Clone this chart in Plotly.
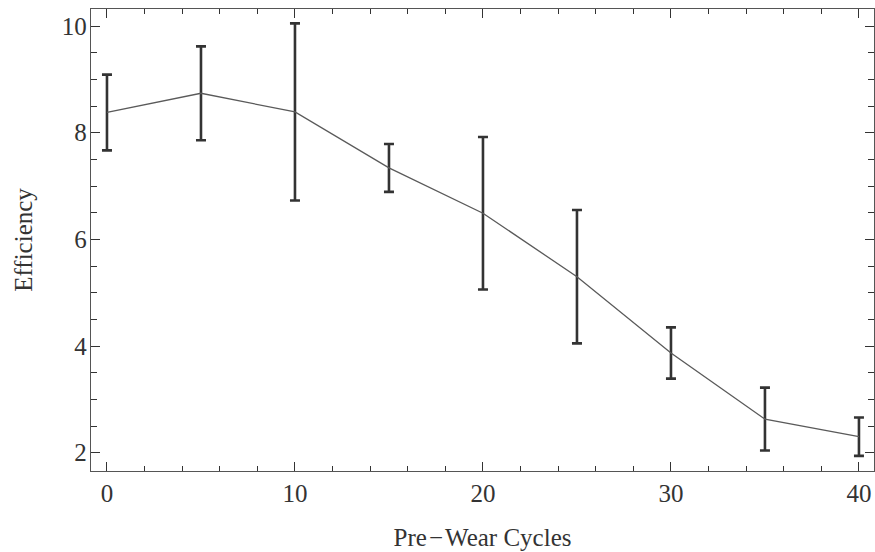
import plotly.graph_objects as go

# Efficiency measured after a number of pre-wear cycles (mean ± error)
cycles = [0, 5, 10, 15, 20, 25, 30, 35, 40]
efficiency = [8.38, 8.74, 8.39, 7.34, 6.49, 5.30, 3.87, 2.63, 2.30]
error = [0.71, 0.88, 1.66, 0.45, 1.43, 1.25, 0.48, 0.59, 0.36]

x_ticks = [0, 10, 20, 30, 40]
y_ticks = [2, 4, 6, 8, 10]

serif = "Liberation Serif, Times New Roman, serif"
frame_col = "#555555"
text_col = "#333333"

fig = go.Figure()
fig.add_trace(go.Scatter(
    x=cycles,
    y=efficiency,
    mode="lines",
    line=dict(color="#5a5a5a", width=1.3),
    error_y=dict(type="data", array=error, visible=True,
                 color="#333333", thickness=2.6, width=5),
    showlegend=False,
    hoverinfo="x+y",
))

axis_common = dict(
    showline=True, linecolor=frame_col, linewidth=1.4, mirror="ticks",
    showgrid=False, zeroline=False,
    ticks="inside", ticklen=9, tickwidth=1.2, tickcolor="#333333",
    tickfont=dict(family=serif, size=25, color=text_col),
    title_font=dict(family=serif, size=25, color=text_col),
)

fig.update_xaxes(
    **axis_common,
    range=[-0.85, 40.8],
    tickvals=x_ticks,
    ticktext=[str(v) for v in x_ticks],
    minor=dict(dtick=2, ticks="inside", ticklen=5, tickwidth=1.1,
               tickcolor="#333333", showgrid=False),
    title_text="Pre\u200a\u2212\u200aWear Cycles",
    title_standoff=22,
    ticklabelstandoff=0,
)
fig.update_yaxes(
    **axis_common,
    range=[1.657, 10.32],
    tickvals=y_ticks,
    ticktext=[str(v) for v in y_ticks],
    minor=dict(dtick=0.5, tick0=0, ticks="inside", ticklen=6, tickwidth=1.1,
               tickcolor="#333333", showgrid=False),
    title_text="Efficiency",
    title_standoff=22,
    ticklabelstandoff=-2,
)

fig.update_layout(
    width=875, height=552,
    margin=dict(l=91, r=1, t=9, b=81),
    paper_bgcolor="white",
    plot_bgcolor="white",
    font=dict(family=serif, color=text_col),
)

fig.write_html("out.html")
